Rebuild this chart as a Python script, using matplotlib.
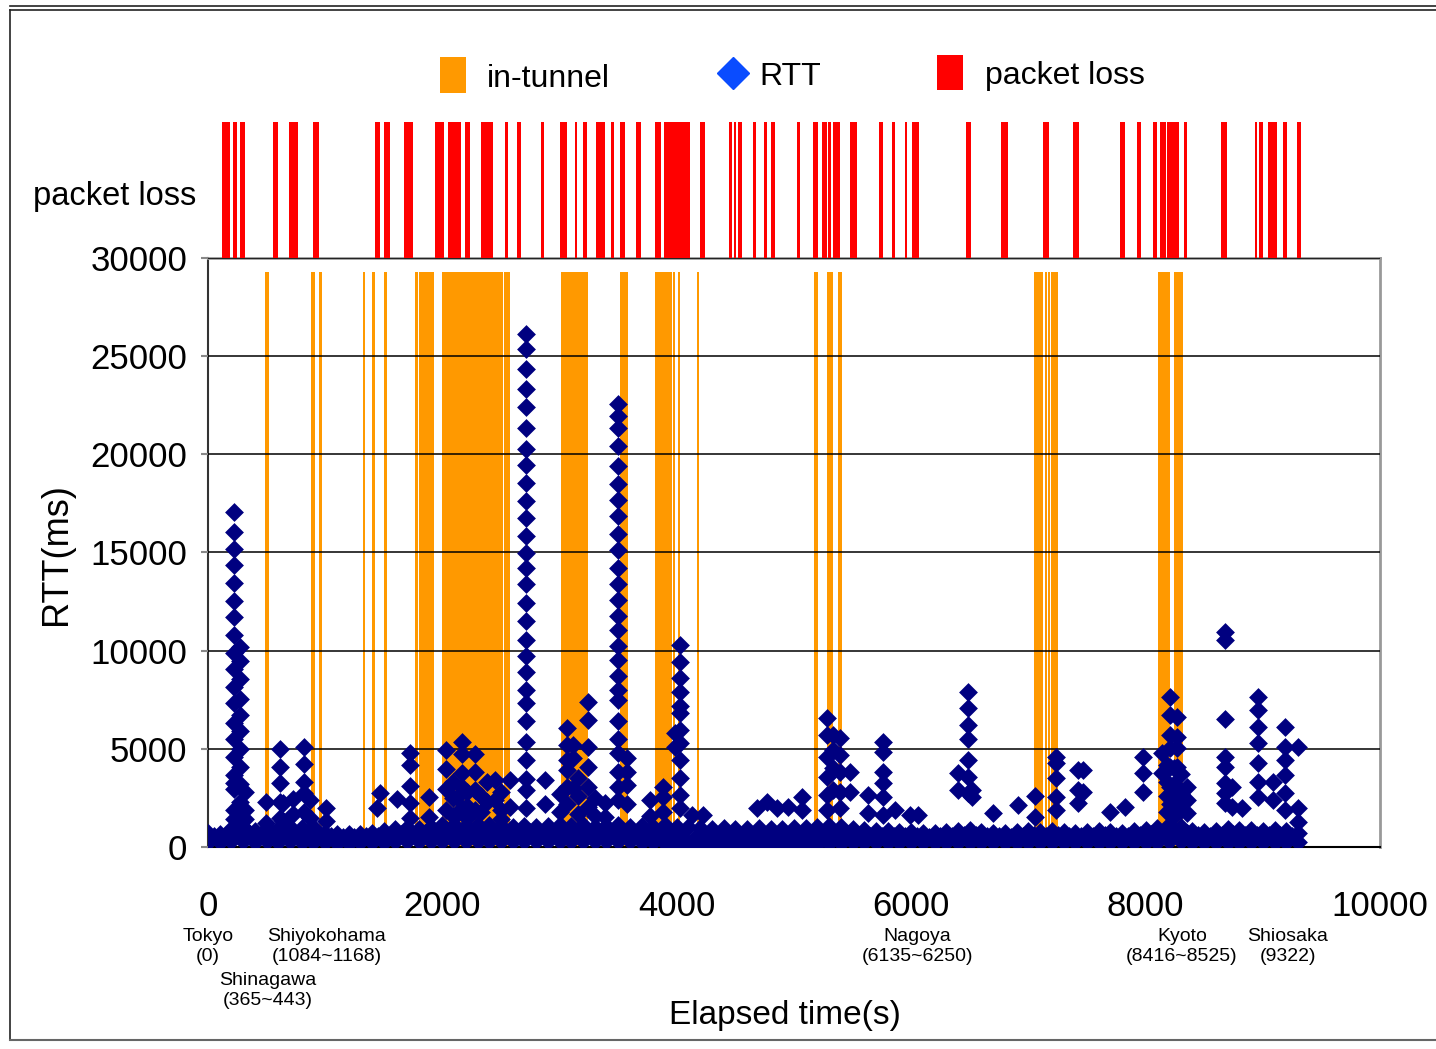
import matplotlib
matplotlib.use('Agg')
import matplotlib.pyplot as plt
from matplotlib.patches import Rectangle
from matplotlib.lines import Line2D
from matplotlib.transforms import blended_transform_factory

plt.rcParams['font.family'] = ['Liberation Sans', 'DejaVu Sans']

# packet loss spans (s)
loss_start = [119, 213, 273, 555, 691, 896, 1425, 1502, 1672, 1937, 2048, 2193,
              2329, 2534, 2637, 2841, 3003, 3131, 3200, 3311, 3439, 3515, 3652,
              3814, 3891, 4198, 4445, 4488, 4522, 4650, 4744, 4804, 5026, 5162,
              5239, 5290, 5333, 5478, 5725, 5836, 5947, 6007, 6468, 6766, 7125,
              7381, 7782, 7927, 8063, 8123, 8183, 8328, 8643, 8933, 8968, 9044,
              9172, 9292]
loss_end = [188, 247, 316, 597, 768, 947, 1468, 1553, 1749, 2014, 2159, 2235,
            2432, 2560, 2671, 2867, 3063, 3148, 3234, 3387, 3464, 3558, 3695,
            3865, 4113, 4241, 4471, 4505, 4556, 4676, 4770, 4838, 5051, 5205,
            5282, 5316, 5392, 5538, 5759, 5862, 5964, 6067, 6510, 6826, 7176,
            7432, 7824, 7961, 8097, 8174, 8285, 8353, 8695, 8951, 9002, 9121,
            9206, 9326]

# in-tunnel spans (s)
tunnel_start = [486, 879, 947, 1323, 1399, 1502, 1766, 1800, 1997, 2526, 3012,
                3515, 3814, 3968, 4010, 4172, 5171, 5282, 5375, 7048, 7142,
                7167, 7193, 8106, 8242]
tunnel_end = [520, 913, 973, 1340, 1425, 1527, 1792, 1928, 2517, 2577, 3242,
              3584, 3959, 3985, 4027, 4189, 5205, 5333, 5410, 7125, 7159,
              7184, 7253, 8208, 8319]

# RTT baseline band, one value per 100 s bin (upper and lower rows, ms)
base_t = [0, 100, 200, 300, 400, 500, 600, 700, 800, 900,
          1000, 1100, 1200, 1300, 1400, 1500, 1600, 1700, 1800, 1900,
          2000, 2100, 2200, 2300, 2400, 2500, 2600, 2700, 2800, 2900,
          3000, 3100, 3200, 3300, 3400, 3500, 3600, 3700, 3800, 3900,
          4000, 4100, 4200, 4300, 4400, 4500, 4600, 4700, 4800, 4900,
          5000, 5100, 5200, 5300, 5400, 5500, 5600, 5700, 5800, 5900,
          6000, 6100, 6200, 6300, 6400, 6500, 6600, 6700, 6800, 6900,
          7000, 7100, 7200, 7300, 7400, 7500, 7600, 7700, 7800, 7900,
          8000, 8100, 8200, 8300, 8400, 8500, 8600, 8700, 8800, 8900,
          9000, 9100, 9200, 9300]
base_hi = [700, 650, 900, 1000, 800, 950, 900, 1000, 950, 1000,
           700, 650, 650, 650, 700, 800, 900, 950, 900, 1000,
           1100, 1100, 1050, 1100, 1100, 1050, 1000, 1050, 1000, 1050,
           1100, 1050, 1100, 1000, 1050, 1100, 1000, 1050, 1000, 1100,
           1000, 1000, 950, 900, 950, 900, 900, 950, 900, 900,
           950, 950, 1000, 1050, 1000, 900, 850, 800, 800, 750,
           750, 700, 700, 750, 800, 850, 750, 700, 700, 750,
           800, 750, 800, 750, 700, 750, 800, 750, 700, 800,
           850, 950, 1100, 1000, 800, 750, 800, 900, 850, 850,
           800, 850, 800, 700]
base_lo = [250, 250, 300, 300, 250, 300, 250, 300, 250, 250,
           250, 200, 200, 250, 250, 250, 300, 300, 300, 300,
           300, 300, 300, 300, 300, 300, 300, 300, 300, 300,
           300, 300, 300, 300, 300, 300, 300, 250, 250, 200,
           100, 50, 50, 50, 50, 50, 50, 50, 50, 50,
           50, 100, 150, 200, 200, 250, 250, 250, 250, 250,
           250, 250, 250, 250, 250, 250, 250, 250, 250, 250,
           250, 250, 250, 250, 250, 250, 250, 250, 250, 250,
           250, 250, 300, 300, 250, 250, 250, 250, 250, 250,
           250, 250, 250, 250]
# points between the 100 s bins (s, ms)
mid_t = [50, 150, 250, 350, 450, 550, 650, 750, 850, 950,
         1050, 1150, 1250, 1350, 1450, 1550, 1650, 1750, 1850, 1950,
         2050, 2150, 2250, 2350, 2450, 2550, 2650, 2750, 2850, 2950,
         3050, 3150, 3250, 3350, 3450, 3550, 3650, 3750, 3850, 3950,
         4050, 4150, 4250, 4350, 4450, 4550, 4650, 4750, 4850, 4950,
         5050, 5150, 5250, 5350, 5450, 5550, 5650, 5750, 5850, 5950,
         6050, 6150, 6250, 6350, 6450, 6550, 6650, 6750, 6850, 6950,
         7050, 7150, 7250, 7350, 7450, 7550, 7650, 7750, 7850, 7950,
         8050, 8150, 8250, 8350, 8450, 8550, 8650, 8750, 8850, 8950,
         9050, 9150, 9250]
mid_ms = [550, 600, 650, 700, 600, 650, 700, 650, 700, 600,
          550, 500, 500, 550, 550, 600, 650, 650, 700, 700,
          750, 700, 750, 700, 750, 700, 700, 750, 700, 700,
          750, 700, 750, 700, 700, 750, 700, 700, 650, 600,
          450, 400, 400, 450, 400, 400, 450, 400, 400, 450,
          400, 450, 600, 650, 650, 600, 550, 550, 550, 550,
          550, 500, 550, 550, 600, 600, 550, 550, 500, 550,
          600, 550, 600, 550, 550, 550, 600, 550, 550, 600,
          650, 700, 750, 700, 600, 550, 600, 650, 600, 600,
          600, 600, 550]

# RTT spikes: time (s) and RTT values (ms) of each column of points
spike_t = [222, 273, 315, 495, 614, 640, 725, 819, 870, 1007, 1440, 1467,
           1612, 1723, 1885, 2030, 2125, 2167, 2278, 2380, 2449, 2577,
           2713, 2875, 3063, 3114, 3242, 3387, 3498, 3575, 3771, 3882,
           3984, 4027, 4129, 4223, 4684, 4770, 4855, 4948, 5068, 5281,
           5333, 5392, 5478, 5631, 5759, 5862, 5990, 6058, 6399, 6485,
           6519, 6698, 6911, 7056, 7235, 7424, 7466, 7696, 7824, 7977,
           8140, 8208, 8268, 8353, 8677, 8737, 8822, 8959, 9087, 9189,
           9300, 2090, 2210, 2330, 2500, 3000, 3160, 3300, 8180, 8240,
           8300]
spike_ms = [
    [17060, 16040, 15180, 14360, 13450, 12530, 11710, 10800, 9880, 9070,
     8150, 7330, 6320, 5500, 4580, 3670, 3260, 2950, 1880, 1400],
    [10190, 9470, 8560, 7540, 6720, 5910, 4990, 4070, 3200, 2300, 1500],
    [2800, 1900, 1400],
    [2290, 1220],
    [4990, 4070, 3260, 2290, 1500],
    [2240, 1300],
    [2440, 1700],
    [5090, 4230, 3310, 2750, 1800],
    [2390, 1500],
    [1990, 1300],
    [1990],
    [2750],
    [2440],
    [4790, 4180, 3110, 2240, 1500],
    [2550, 1530],
    [4940, 3970, 2950, 1900],
    [2550, 1700],
    [5350, 4740, 3770, 3050, 2000],
    [4740, 3820, 2900, 1900],
    [3310, 2300],
    [3410, 2390],
    [3410, 2040],
    [26130, 25360, 24340, 23330, 22410, 21340, 20270, 19460, 18540, 17620,
     16760, 15840, 14970, 14210, 13390, 12430, 11510, 10540, 9730, 8910,
     8000, 7330, 6420, 5350, 4430, 3460, 2900, 2000],
    [3410, 2200],
    [6060, 5200, 4430, 3920, 3060, 2200],
    [5200, 4530, 3000],
    [7390, 6470, 5090, 4070, 3060, 2040],
    [2240, 1530],
    [22560, 21950, 21340, 20420, 19400, 18490, 17670, 16860, 15940, 15130,
     14210, 13390, 12580, 11760, 11050, 10240, 9520, 8710, 8000, 7490,
     6420, 5500, 4790, 3820, 3060, 2390],
    [4530, 3820, 3160, 2200],
    [2390, 1600],
    [3060, 2550, 1800],
    [5810, 5090],
    [10290, 9420, 8610, 7890, 7180, 6820, 5960, 5300, 4430, 3510, 2650, 1990],
    [1630],
    [1630],
    [1990],
    [2290],
    [1990],
    [2040],
    [2550, 1880],
    [6570, 5700, 4580, 3570, 2650, 1880],
    [5700, 4940, 4020, 2900],
    [5550, 4690, 3820, 2800, 1990],
    [3820, 2800],
    [2650, 1730],
    [5350, 4840, 3820, 3260, 2550, 1630],
    [1880],
    [1630],
    [1630],
    [3770, 2900],
    [7890, 7080, 6210, 5500, 4430, 3570, 2750],
    [2900, 2550],
    [1730],
    [2140],
    [2600, 1530],
    [4580, 4280, 3510, 2550, 1880],
    [3920, 2900, 2240],
    [3920, 2800],
    [1780],
    [2040],
    [4580, 3770, 2800],
    [4790, 3770],
    [7640, 6720, 5700, 5040, 4070, 3060, 2200],
    [6620, 5600, 5040, 4070, 3060, 2390],
    [3060, 2390, 1730],
    [10950, 10540, 6520, 4580, 4070, 3260, 2750, 2240],
    [3060, 2040],
    [1990],
    [7640, 6980, 6110, 5300, 4280, 3310, 2550],
    [3310, 2390],
    [6110, 5090, 4430, 3670, 2750, 1880],
    [5090, 1990, 1270],
    [3300, 2500, 1600],
    [2800, 2100, 1500],
    [2600, 1800],
    [2800, 1900, 1400],
    [2700, 1800],
    [3500, 2600, 1700],
    [2500, 1600],
    [4200, 3300, 2600, 1800],
    [4000, 3200, 2400, 1600],
    [3700, 2700, 1900],
]

x_ticks = [0, 2000, 4000, 6000, 8000, 10000]
y_ticks = [0, 5000, 10000, 15000, 20000, 25000, 30000]

stations = ['Tokyo\n(0)', 'Shiyokohama\n(1084~1168)', 'Nagoya\n(6135~6250)',
            'Kyoto\n(8416~8525)', 'Shiosaka\n(9322)']
station_x = [0, 1015, 6050, 8310, 9215]

ORANGE = '#FF9900'
RED = '#FF0000'
NAVY = '#000080'

fig = plt.figure(figsize=(14.36, 10.49), dpi=100)
ax = fig.add_axes([0.1448, 0.1926, 0.8162, 0.5615])
ax_loss = fig.add_axes([0.1448, 0.7541, 0.8162, 0.1296])

# packet loss strip
ax_loss.bar(loss_start, 1, width=[e - s for s, e in zip(loss_start, loss_end)],
            align='edge', color=RED, linewidth=0)
ax_loss.set_xlim(0, 10000)
ax_loss.set_ylim(0, 1)
ax_loss.axis('off')

# tunnel spans
ax.bar(tunnel_start, 29300, width=[e - s for s, e in zip(tunnel_start, tunnel_end)],
       align='edge', color=ORANGE, linewidth=0, zorder=0.5)

# RTT points
pts_t = base_t + base_t + mid_t
pts_v = base_hi + base_lo + mid_ms
for t, vals in zip(spike_t, spike_ms):
    pts_t += [t] * len(vals)
    pts_v += vals
ax.scatter(pts_t, pts_v, marker='D', s=92, color=NAVY, linewidths=0, zorder=3)

ax.set_xlim(0, 10000)
ax.set_ylim(0, 30000)
ax.set_xticks(x_ticks)
ax.set_yticks(y_ticks)
ax.set_xticklabels([str(v) for v in x_ticks])
ax.set_yticklabels([str(v) for v in y_ticks])
ax.set_axisbelow(False)
ax.grid(axis='y', color='black', linewidth=1.1)
ax.tick_params(axis='y', labelsize=25, length=5, width=1.5, color='#888888', pad=10)
ax.tick_params(axis='x', labelsize=25, length=0, pad=31)
ax.spines['left'].set_color('#333333')
ax.spines['left'].set_linewidth(1.5)
ax.spines['bottom'].set_color('black')
ax.spines['bottom'].set_linewidth(1.5)
for side in ('top', 'right'):
    ax.spines[side].set_color('#999999')
    ax.spines[side].set_linewidth(2)

fig.text(0.039, 0.472, 'RTT(ms)', rotation=90, fontsize=26, ha='center', va='center')
fig.text(0.5467, 0.0315, 'Elapsed time(s)', fontsize=24, ha='center', va='center')
fig.text(0.023, 0.813, 'packet loss', fontsize=23.5, ha='left', va='center')

# station labels below the axis
trans = blended_transform_factory(ax.transData, fig.transFigure)
for name, x in zip(stations, station_x):
    ax.text(x, 0.1155, name, transform=trans, fontsize=14, ha='center',
            va='top', linespacing=1.25)
ax.text(512, 0.0735, 'Shinagawa\n(365~443)', transform=trans, fontsize=14,
        ha='center', va='top', linespacing=1.25)

# legend
fig.add_artist(Rectangle((0.3064, 0.9113), 0.0181, 0.0343, transform=fig.transFigure,
                         facecolor=ORANGE, edgecolor='none'))
fig.text(0.3391, 0.9248, 'in-tunnel', fontsize=23, ha='left', va='center')
fig.add_artist(Line2D([0.5104], [0.9304], marker='D', markersize=16, color='#0A4CFF',
                      linestyle='none', transform=fig.transFigure))
fig.text(0.5286, 0.9262, 'RTT', fontsize=23, ha='left', va='center')
fig.add_artist(Rectangle((0.6525, 0.9142), 0.0181, 0.0334, transform=fig.transFigure,
                         facecolor=RED, edgecolor='none'))
fig.text(0.6859, 0.9276, 'packet loss', fontsize=23, ha='left', va='center')

# outer frame
for y in (0.9943, 0.9905):
    fig.add_artist(Line2D([0.007, 1.0], [y, y], color='#222222', linewidth=1.2,
                          transform=fig.transFigure))
fig.add_artist(Line2D([0.007, 0.007], [0.0086, 0.9905], color='#222222', linewidth=1.2,
                      transform=fig.transFigure))
fig.add_artist(Line2D([0.007, 1.0], [0.0086, 0.0086], color='#666666', linewidth=1.5,
                      transform=fig.transFigure))

fig.savefig('out.png', dpi=100, facecolor='white')
